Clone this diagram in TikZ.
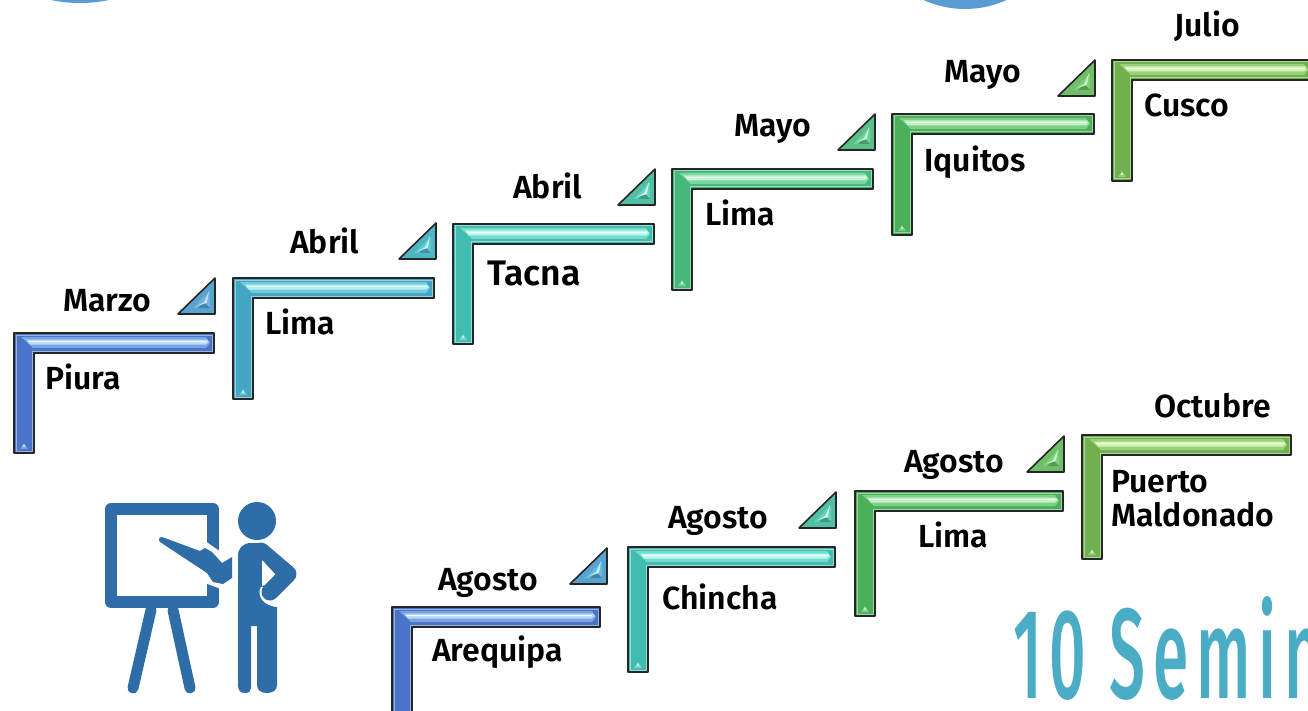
\documentclass[tikz,border=0pt]{standalone}
\usepackage{fontspec}
\setmainfont{Fira Sans SemiBold}
\newfontfamily\segfont[LetterSpace=12]{Fira Sans Medium}
\definecolor{cBlue}{HTML}{4A74C8}\definecolor{lBlue}{HTML}{B8DCFA}
\definecolor{cSky}{HTML}{45A6C4}\definecolor{lSky}{HTML}{B0F4F8}
\definecolor{cTeal}{HTML}{40BDB0}\definecolor{lTeal}{HTML}{BDFBF0}
\definecolor{cMint}{HTML}{46B87C}\definecolor{lMint}{HTML}{BDF8D0}
\definecolor{cGrn}{HTML}{4CB05A}\definecolor{lGrn}{HTML}{BDF5C0}
\definecolor{cLime}{HTML}{70B04E}\definecolor{lLime}{HTML}{D0F8B0}
\definecolor{tA}{HTML}{58A4D0}\definecolor{tB}{HTML}{4DB5C4}
\definecolor{tC}{HTML}{50C0A4}\definecolor{tD}{HTML}{58C088}
\definecolor{tE}{HTML}{70BE68}
\definecolor{iconBlue}{HTML}{2F6DA8}
\definecolor{semi}{HTML}{4BACC6}
\definecolor{disc}{HTML}{5B9BD5}
\tikzset{
  lbl/.style={font=\fontsize{32}{35}\selectfont,text=black,inner sep=0pt,align=left,anchor=base west},
  biglbl/.style={lbl,font=\fontsize{35.5}{38}\selectfont},
  frameline/.style={draw=black!85,line width=1.6pt,line join=round},
  iconfill/.style={fill=iconBlue,draw=none},
  easelleg/.style={line width=11pt,draw=iconBlue,line cap=round},
}
% x y right bottom color light
\newcommand{\stepframe}[6]{%
  \fill[#5] (#1,#2) -- (#3,#2) -- (#3,#2+20) -- (#1+20,#2+20) -- (#1+20,#4) -- (#1,#4) -- cycle;
  \draw[#5!55!white,line width=1pt,line join=round] (#1+2,#2+2) -- (#3-2,#2+2) -- (#3-2,#2+18) -- (#1+18,#2+18) -- (#1+18,#4-2) -- (#1+2,#4-2) -- cycle;
  \fill[#5!55!#6] (#1+7,#2+4) -- (#3-8,#2+4) -- (#3-4,#2+10) -- (#3-8,#2+15) -- (#1+19,#2+15) -- cycle;
  \fill[#6] (#1+12,#2+6.5) -- (#3-7,#2+6.5) -- (#3-5,#2+9) -- (#3-8,#2+11.5) -- (#1+16,#2+11.5) -- cycle;
  \draw[white!80!#6,line width=1pt] (#1+14,#2+8.2) -- (#3-8,#2+8.2);
  \fill[#5!70!white] (#1+6,#4-4) -- (#1+10,#4-10) -- (#1+14,#4-4) -- cycle;
  \fill[#6] (#1+8.5,#4-6) -- (#1+10,#4-9) -- (#1+11.5,#4-6) -- cycle;
  \draw[frameline] (#1,#2) -- (#3,#2) -- (#3,#2+20) -- (#1+20,#2+20) -- (#1+20,#4) -- (#1,#4) -- cycle;
}
% right-x bottom-y color light
\newcommand{\wedgetri}[4]{%
  \fill[#3] (#1-37,#2) -- (#1,#2-36) -- (#1,#2) -- cycle;
  \fill[#3!75!#4] (#1-22,#2-6) -- (#1-5,#2-23) -- (#1-5,#2-6) -- cycle;
  \fill[#3!80!black] (#1-17,#2-6) -- (#1-11,#2-12) -- (#1-5,#2-6) -- cycle;
  \fill[#4] (#1-11,#2-12) -- (#1-6,#2-23) -- (#1-8,#2-11) -- (#1-18,#2-8) -- cycle;
  \draw[frameline] (#1-37,#2) -- (#1,#2-36) -- (#1,#2) -- cycle;
}
\begin{document}
\begin{tikzpicture}[x=1pt,y=-1pt]
\useasboundingbox (0,0) rectangle (1308,711);
\begin{scope}
\clip (0,0) rectangle (1308,711);
\fill[disc] (80,-140) circle (143);
\fill[disc] (965,-91) circle (100);
\stepframe{14}{333}{214}{453}{cBlue}{lBlue}
\stepframe{233}{278}{434}{399}{cSky}{lSky}
\stepframe{453}{224}{654}{344}{cTeal}{lTeal}
\stepframe{672}{169}{873}{290}{cMint}{lMint}
\stepframe{892}{114}{1094}{235}{cGrn}{lGrn}
\stepframe{1112}{60}{1312}{181}{cLime}{lLime}
\stepframe{392}{607}{600}{730}{cBlue}{lBlue}
\stepframe{628}{547}{835}{672}{cTeal}{lTeal}
\stepframe{855}{491}{1063}{616}{cGrn}{lGrn}
\stepframe{1082}{435}{1291}{559}{cLime}{lLime}
\wedgetri{215}{314}{tA}{lBlue}
\wedgetri{436}{259}{tB}{lSky}
\wedgetri{655}{205}{tC}{lTeal}
\wedgetri{875}{150}{tD}{lMint}
\wedgetri{1095}{96}{tE}{lGrn}
\wedgetri{607}{584}{tA}{lSky}
\wedgetri{836}{528}{tC}{lTeal}
\wedgetri{1064}{472}{tE}{lGrn}
% presenter icon: easel
\draw[easelleg] (151,610) -- (133,688);
\draw[easelleg] (173,610) -- (190,688);
\draw[iconBlue,line width=12pt,line join=round] (111,509) rectangle (213,602);
\fill[white] (205,541) -- (221,552) -- (221,589) -- (205,583) -- cycle;
\fill[iconfill] (162,537) -- (200,551) -- (205,548) -- (212,552) -- (222,563) -- (232,557) -- (232,578) -- (223,584) -- (213,582) -- (207,573) -- (160,542) .. controls (158,540) and (159,537) .. (162,537) -- cycle;
% presenter icon: person
\fill[iconfill] (257,521) circle (19);
\fill[iconfill] (238,556) .. controls (238,548) and (243,543) .. (251,543) -- (264,543) -- (264,585) .. controls (262,598) and (268,607) .. (277,607) -- (277,685) .. controls (277,690) and (273,693) .. (267,693) .. controls (261,693) and (257,690) .. (257,685) -- (257,626) -- (251,626) -- (251,688) .. controls (251,691) and (249,693) .. (245,693) .. controls (240,693) and (238,690) .. (238,685) -- cycle;
\draw[white,line width=3pt,line cap=round] (262,588) .. controls (258,596) and (266,606) .. (279,605);
\draw[iconBlue,line width=17pt,line join=round,line cap=round] (261,551) -- (288,574) -- (270,592);
\fill[white] (262,560) -- (262,586) -- (264,585) -- (275,574) -- cycle;
\node[font=\segfont\fontsize{128}{128}\selectfont,text=semi,inner sep=0pt,anchor=base west,xscale=0.5] (t) at (1013,698) {10 Semin};
\end{scope}
\node[lbl] (m1) at (63,311) {Marzo};
\node[lbl] (p1) at (45,389) {Piura};
\node[lbl] (m2) at (290,254) {Abril};
\node[lbl] (p2) at (265,334) {Lima};
\node[lbl] (m3) at (513,199) {Abril};
\node[biglbl] (p3) at (487,285) {Tacna};
\node[lbl] (m4) at (734,137) {Mayo};
\node[lbl] (p4) at (705,226) {Lima};
\node[lbl] (m5) at (944,83) {Mayo};
\node[lbl] (p5) at (924,172) {Iquitos};
\node[lbl] (m6) at (1174,37) {Julio};
\node[lbl] (p6) at (1144,117) {Cusco};
\node[lbl] (m7) at (438,590) {Agosto};
\node[lbl] (p7) at (432,661) {Arequipa};
\node[lbl] (m8) at (668,528) {Agosto};
\node[lbl] (p8) at (662,609) {Chincha};
\node[lbl] (m9) at (904,472) {Agosto};
\node[lbl] (p9) at (918,547) {Lima};
\node[lbl] (m10) at (1154,417) {Octubre};
\node[lbl] (p10) at (1111,492) {Puerto};
\node[lbl] (p11) at (1111,526) {Maldonado};
\end{tikzpicture}
\end{document}
